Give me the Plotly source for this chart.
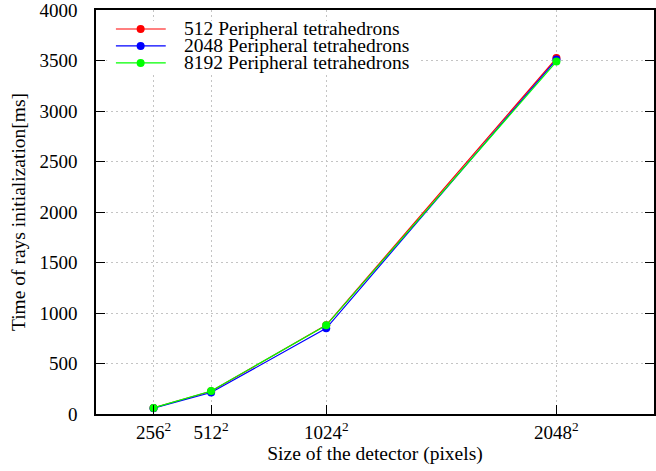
import plotly.graph_objects as go

# Detector side length (pixels per side) and tick labels
sizes = [256, 512, 1024, 2048]
size_labels = ["256<sup>2</sup>", "512<sup>2</sup>", "1024<sup>2</sup>", "2048<sup>2</sup>"]

# Ray initialization time [ms] per peripheral tetrahedron count
t_512 = [60, 225, 880, 3525]
t_2048 = [58, 213, 848, 3510]
t_8192 = [60, 228, 878, 3490]

series = [
    ("512 Peripheral tetrahedrons", t_512, "#ff0000"),
    ("2048 Peripheral tetrahedrons", t_2048, "#0000ff"),
    ("8192 Peripheral tetrahedrons", t_8192, "#00ff00"),
]

FONT = "Liberation Serif, DejaVu Serif, serif"
TICK_SIZE = 19
TEXT_SIZE = 19.5

fig = go.Figure()
for name, vals, col in series:
    fig.add_trace(go.Scatter(
        x=sizes, y=vals, name=name, mode="lines+markers",
        line=dict(color=col, width=1.2),
        marker=dict(color=col, size=8),
        showlegend=False,
    ))

# Key box in the upper-left corner of the plot area (domain fractions)
key_left, key_right = 0.0357, 0.125
key_mark = 0.080
key_text = 0.155
key_rows = [0.953, 0.911, 0.869]
fig.add_shape(type="rect", xref="x domain", yref="y domain",
              x0=0.02, x1=0.58, y0=0.845, y1=0.973,
              fillcolor="white", line=dict(width=0), layer="above")
for (name, _, col), yr in zip(series, key_rows):
    fig.add_shape(type="line", xref="x domain", yref="y domain",
                  x0=key_left, x1=key_right, y0=yr, y1=yr,
                  line=dict(color=col, width=1.2), layer="above")
    fig.add_shape(type="circle", xref="x domain", yref="y domain",
                  x0=key_mark - 0.0072, x1=key_mark + 0.0072,
                  y0=yr - 0.0099, y1=yr + 0.0099,
                  fillcolor=col, line=dict(color=col, width=0), layer="above")
    fig.add_annotation(xref="x domain", yref="y domain", x=key_text, y=yr,
                       text=name, showarrow=False, xanchor="left",
                       yanchor="middle",
                       font=dict(family=FONT, size=TEXT_SIZE, color="black"))

axis_style = dict(showgrid=True, gridcolor="#c4c4c4", griddash="2px,3px",
                  gridwidth=1, zeroline=False, showline=True,
                  linecolor="black", linewidth=1.5,
                  ticks="inside", ticklen=9, tickcolor="black", tickwidth=1.2,
                  ticklabeloverflow="allow",
                  tickfont=dict(family=FONT, size=TICK_SIZE, color="black"))

fig.update_layout(
    width=656, height=471,
    margin=dict(l=96, r=0, t=8, b=57),
    plot_bgcolor="white", paper_bgcolor="white",
    font=dict(family=FONT, size=TEXT_SIZE, color="black"),
    showlegend=False,
    xaxis=dict(range=[0, 2482], tickvals=sizes, ticktext=size_labels,
               mirror=True, ticklabelstandoff=0,
               title=dict(text="Size of the detector (pixels)",
                          font=dict(family=FONT, size=TEXT_SIZE), standoff=5),
               **axis_style),
    yaxis=dict(range=[0, 4000.5], dtick=500, mirror="ticks",
               ticklabelstandoff=13,
               title=dict(text="Time of rays initialization[ms]",
                          font=dict(family=FONT, size=TEXT_SIZE), standoff=9),
               **axis_style),
)

fig.write_html("out.html")
